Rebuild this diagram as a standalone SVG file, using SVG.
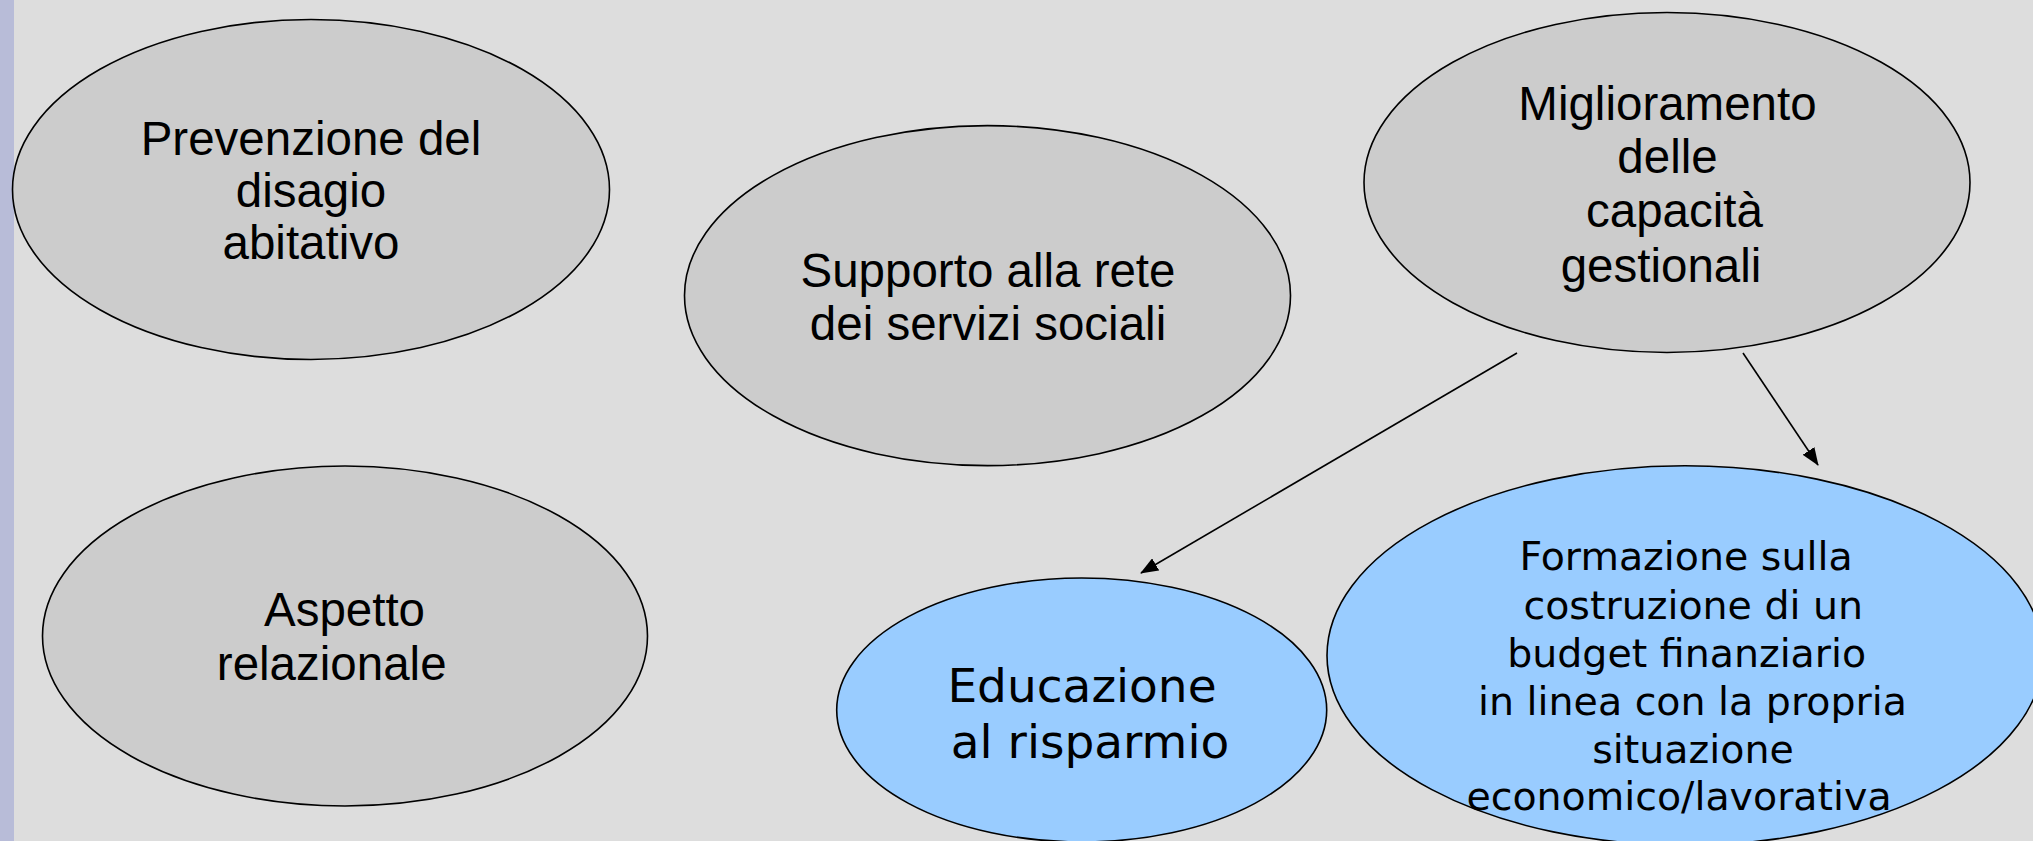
<svg xmlns="http://www.w3.org/2000/svg" width="2033" height="841" viewBox="0 0 2033 841">
<defs>
<style>
.gray{fill:#cccccc;stroke:#000;stroke-width:1.6}
.blue{fill:#99ccff;stroke:#000;stroke-width:1.6}
.t1{font-family:"Liberation Sans",Arial,sans-serif;font-size:47.5px;fill:#000;text-anchor:middle}
.t2{font-family:"DejaVu Sans",Verdana,sans-serif;font-size:47px;fill:#000;text-anchor:middle}
.t3{font-family:"DejaVu Sans",Verdana,sans-serif;font-size:39.5px;fill:#000;text-anchor:middle}
.conn{stroke:#000;stroke-width:1.6;fill:none}
</style>
<marker id="arr" markerWidth="18" markerHeight="14" refX="17" refY="7" orient="auto" markerUnits="userSpaceOnUse">
<path d="M0,0 L18,7 L0,14 Z" fill="#000"/>
</marker>
</defs>
<rect x="0" y="0" width="2033" height="841" fill="#dddddd"/>
<rect x="0" y="0" width="14" height="841" fill="#b8bcd8"/>
<g id="node-prevenzione">
<ellipse class="gray" cx="311" cy="189.5" rx="298.5" ry="170"/>
<text class="t1"><tspan x="311" y="155">Prevenzione del</tspan><tspan x="311" y="207">disagio</tspan><tspan x="311" y="259">abitativo</tspan></text>
</g>
<g id="node-supporto">
<ellipse class="gray" cx="987.5" cy="295.6" rx="303" ry="170"/>
<text class="t1"><tspan x="988" y="286.7">Supporto alla rete</tspan><tspan x="988" y="340">dei servizi sociali</tspan></text>
</g>
<g id="node-miglioramento">
<ellipse class="gray" cx="1667" cy="182.5" rx="303" ry="170"/>
<text class="t1"><tspan x="1667.5" y="120">Miglioramento</tspan><tspan x="1667.5" y="173.3">delle</tspan><tspan x="1674.5" y="226.7">capacità</tspan><tspan x="1661" y="281.7">gestionali</tspan></text>
</g>
<g id="node-aspetto">
<ellipse class="gray" cx="345" cy="636" rx="302.5" ry="170"/>
<text class="t1"><tspan x="344.5" y="626">Aspetto</tspan><tspan x="331.7" y="680">relazionale</tspan></text>
</g>
<g id="node-educazione">
<ellipse class="blue" cx="1081.7" cy="710" rx="245" ry="132"/>
<text class="t2"><tspan x="1082" y="701.7">Educazione</tspan><tspan x="1090" y="758.3">al risparmio</tspan></text>
</g>
<g id="node-formazione">
<ellipse class="blue" cx="1685" cy="655.5" rx="358" ry="189.7"/>
<text class="t3"><tspan x="1686" y="570">Formazione sulla</tspan><tspan x="1693.3" y="619.3">costruzione di un</tspan><tspan x="1686.7" y="666.7">budget finanziario</tspan><tspan x="1692.5" y="715">in linea con la propria</tspan><tspan x="1693" y="763.3">situazione</tspan><tspan x="1679" y="810">economico/lavorativa</tspan></text>
</g>
<g id="connectors">
<line class="conn" x1="1517" y1="353" x2="1141" y2="573" marker-end="url(#arr)"/>
<line class="conn" x1="1743" y1="353" x2="1818" y2="465" marker-end="url(#arr)"/>
</g>
</svg>
